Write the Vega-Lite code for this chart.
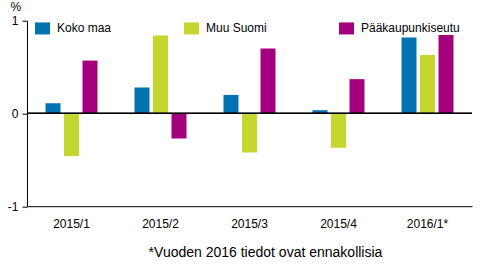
{
  "$schema": "https://vega.github.io/schema/vega-lite/v6.json",
  "autosize": "none",
  "width": 445,
  "height": 185.5,
  "padding": {"left": 27, "top": 20.7, "right": 22, "bottom": 58.8},
  "background": "white",
  "config": {
    "view": {"stroke": null},
    "font": "Liberation Sans",
    "axis": {"labelFont": "Liberation Sans", "titleFont": "Liberation Sans", "labelColor": "black", "titleColor": "black"},
    "legend": {"labelFont": "Liberation Sans"}
  },
  "data": {
    "values": [
      {"period": "2015/1", "series": "Koko maa", "value": 0.11},
      {"period": "2015/1", "series": "Muu Suomi", "value": -0.46},
      {"period": "2015/1", "series": "Pääkaupunkiseutu", "value": 0.57},
      {"period": "2015/2", "series": "Koko maa", "value": 0.28},
      {"period": "2015/2", "series": "Muu Suomi", "value": 0.84},
      {"period": "2015/2", "series": "Pääkaupunkiseutu", "value": -0.27},
      {"period": "2015/3", "series": "Koko maa", "value": 0.2},
      {"period": "2015/3", "series": "Muu Suomi", "value": -0.42},
      {"period": "2015/3", "series": "Pääkaupunkiseutu", "value": 0.7},
      {"period": "2015/4", "series": "Koko maa", "value": 0.035},
      {"period": "2015/4", "series": "Muu Suomi", "value": -0.37},
      {"period": "2015/4", "series": "Pääkaupunkiseutu", "value": 0.37},
      {"period": "2016/1*", "series": "Koko maa", "value": 0.82},
      {"period": "2016/1*", "series": "Muu Suomi", "value": 0.63},
      {"period": "2016/1*", "series": "Pääkaupunkiseutu", "value": 0.845}
    ]
  },
  "layer": [
    {
      "mark": {"type": "bar"},
      "encoding": {
        "x": {
          "field": "period", "type": "nominal",
          "scale": {"paddingInner": 0, "paddingOuter": -0.071},
          "axis": {
            "title": "*Vuoden 2016 tiedot ovat ennakollisia",
            "titleFontSize": 14, "titleFontWeight": "normal",
            "titleX": 238, "titleY": 46, "titleAlign": "center", "titleBaseline": "middle",
            "labelAngle": 0, "labelFontSize": 12, "labelPadding": 12,
            "ticks": false, "domainColor": "black", "domainWidth": 1
          }
        },
        "xOffset": {
          "field": "series", "type": "nominal",
          "sort": ["Koko maa", "Muu Suomi", "Pääkaupunkiseutu"],
          "scale": {"paddingInner": 0.19, "paddingOuter": 1.07}
        },
        "y": {
          "field": "value", "type": "quantitative",
          "scale": {"domain": [-1, 1], "nice": false},
          "axis": {
            "values": [-1, 0, 1], "grid": false,
            "labelExpr": "datum.value",
            "title": "%", "titleAngle": 0, "titleFontSize": 12, "titleFontWeight": "normal",
            "titleX": -17, "titleY": -14, "titleAlign": "left", "titleBaseline": "middle",
            "labelFontSize": 12, "labelPadding": 4, "tickSize": 5,
            "tickColor": "black", "domainColor": "black"
          }
        },
        "color": {
          "field": "series", "type": "nominal",
          "sort": ["Koko maa", "Muu Suomi", "Pääkaupunkiseutu"],
          "scale": {"domain": ["Koko maa", "Muu Suomi", "Pääkaupunkiseutu"], "range": ["#0073b0", "#c3d72f", "#a5007e"]},
          "legend": {
            "title": null, "orient": "none", "direction": "horizontal",
            "legendX": 8, "legendY": 0, "padding": 0,
            "symbolType": "M-1,-0.8H1V0.8H-1Z", "symbolSize": 225, "symbolStrokeWidth": 0, "symbolOpacity": 1,
            "labelFontSize": 12, "labelOffset": 7, "columnPadding": 72, "labelColor": "black"
          }
        }
      }
    },
    {
      "mark": {"type": "rule", "color": "black", "strokeWidth": 1},
      "encoding": {"y": {"datum": 0}}
    }
  ]
}
